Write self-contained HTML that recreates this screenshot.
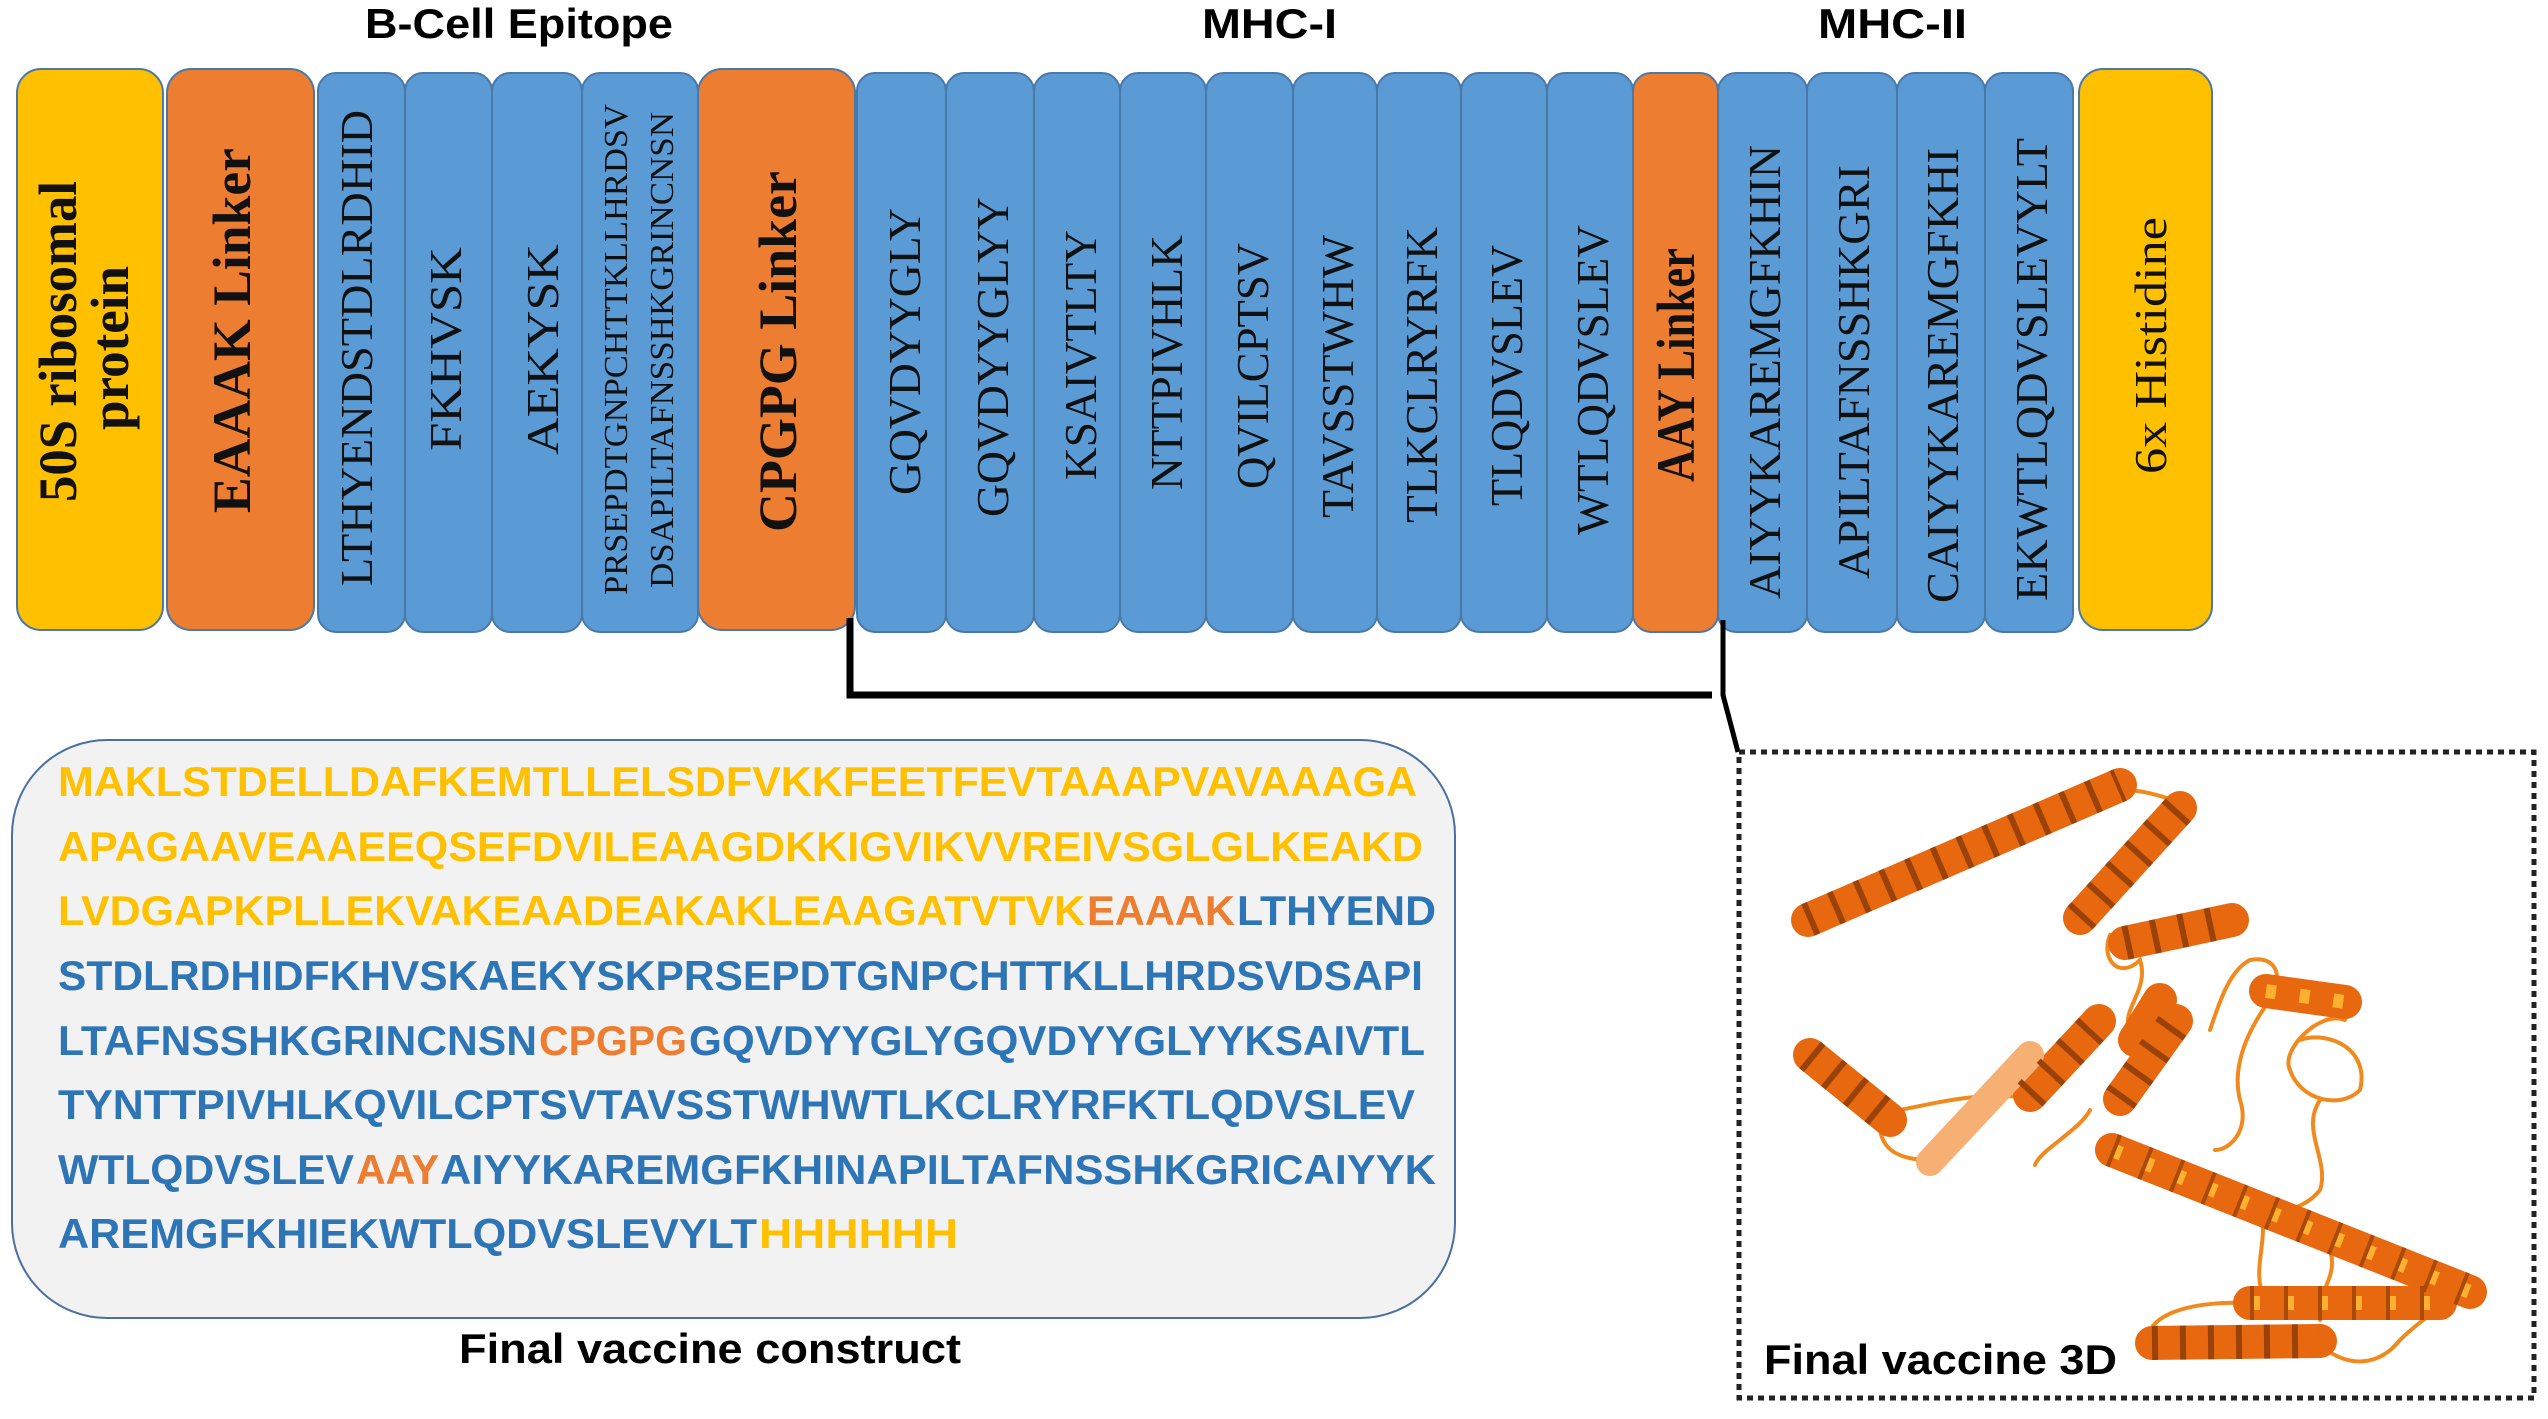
<!DOCTYPE html>
<html><head><meta charset="utf-8"><style>
html,body{margin:0;padding:0;background:#fff;}
svg{display:block;}
</style></head><body>
<svg width="2548" height="1419" viewBox="0 0 2548 1419" xmlns="http://www.w3.org/2000/svg">
<rect width="2548" height="1419" fill="#fff"/>
<g font-family="'Liberation Sans', sans-serif" font-weight="bold" font-size="42" fill="#000">
<text x="365" y="38" textLength="308" lengthAdjust="spacingAndGlyphs">B-Cell Epitope</text>
<text x="1202" y="38" textLength="135" lengthAdjust="spacingAndGlyphs">MHC-I</text>
<text x="1818" y="38" textLength="149" lengthAdjust="spacingAndGlyphs">MHC-II</text>
</g>
<g stroke="#4a78a8" stroke-width="2">
<rect x="17" y="69" width="146" height="561" rx="24" fill="#FFC000"/>
<rect x="167" y="69" width="147" height="561" rx="24" fill="#ED7D31"/>
<rect x="318" y="73" width="87" height="559" rx="18" fill="#5B9BD5"/>
<rect x="405" y="73" width="87" height="559" rx="18" fill="#5B9BD5"/>
<rect x="492" y="73" width="90" height="559" rx="18" fill="#5B9BD5"/>
<rect x="582" y="73" width="116" height="559" rx="18" fill="#5B9BD5"/>
<rect x="698" y="69" width="157" height="561" rx="24" fill="#ED7D31"/>
<rect x="857" y="73" width="89" height="559" rx="18" fill="#5B9BD5"/>
<rect x="946" y="73" width="88" height="559" rx="18" fill="#5B9BD5"/>
<rect x="1034" y="73" width="86" height="559" rx="18" fill="#5B9BD5"/>
<rect x="1120" y="73" width="86" height="559" rx="18" fill="#5B9BD5"/>
<rect x="1206" y="73" width="87" height="559" rx="18" fill="#5B9BD5"/>
<rect x="1293" y="73" width="84" height="559" rx="18" fill="#5B9BD5"/>
<rect x="1377" y="73" width="84" height="559" rx="18" fill="#5B9BD5"/>
<rect x="1461" y="73" width="86" height="559" rx="18" fill="#5B9BD5"/>
<rect x="1547" y="73" width="86" height="559" rx="18" fill="#5B9BD5"/>
<rect x="1633" y="73" width="85" height="559" rx="18" fill="#ED7D31"/>
<rect x="1718" y="73" width="89" height="559" rx="18" fill="#5B9BD5"/>
<rect x="1807" y="73" width="90" height="559" rx="18" fill="#5B9BD5"/>
<rect x="1897" y="73" width="88" height="559" rx="18" fill="#5B9BD5"/>
<rect x="1985" y="73" width="88" height="559" rx="18" fill="#5B9BD5"/>
<rect x="2079" y="69" width="133" height="561" rx="24" fill="#FFC000"/>
</g>
<g font-family="'Liberation Serif', serif" fill="#111">
<g font-weight="bold" font-size="54">
<text transform="translate(76,342) rotate(-90)" x="-160" textLength="321" lengthAdjust="spacingAndGlyphs">50S ribosomal</text>
<text transform="translate(128,348) rotate(-90)" x="-82" textLength="164" lengthAdjust="spacingAndGlyphs">protein</text>
<text transform="translate(250,331) rotate(-90)" x="-182" textLength="365" lengthAdjust="spacingAndGlyphs">EAAAK Linker</text>
<text transform="translate(796,352) rotate(-90)" x="-180" textLength="361" lengthAdjust="spacingAndGlyphs">CPGPG Linker</text>
<text transform="translate(1694,365) rotate(-90)" x="-117" textLength="234" lengthAdjust="spacingAndGlyphs">AAY Linker</text>
</g>
<g font-size="46">
<text transform="translate(372,348) rotate(-90)" x="-238" textLength="476" lengthAdjust="spacingAndGlyphs">LTHYENDSTDLRDHID</text>
<text transform="translate(461,349) rotate(-90)" x="-102" textLength="204" lengthAdjust="spacingAndGlyphs">FKHVSK</text>
<text transform="translate(558,350) rotate(-90)" x="-105" textLength="211" lengthAdjust="spacingAndGlyphs">AEKYSK</text>
<text transform="translate(920,352) rotate(-90)" x="-143" textLength="287" lengthAdjust="spacingAndGlyphs">GQVDYYGLY</text>
<text transform="translate(1008,357) rotate(-90)" x="-160" textLength="320" lengthAdjust="spacingAndGlyphs">GQVDYYGLYY</text>
<text transform="translate(1096,355) rotate(-90)" x="-125" textLength="250" lengthAdjust="spacingAndGlyphs">KSAIVTLTY</text>
<text transform="translate(1182,363) rotate(-90)" x="-127" textLength="255" lengthAdjust="spacingAndGlyphs">NTTPIVHLK</text>
<text transform="translate(1268,366) rotate(-90)" x="-123" textLength="246" lengthAdjust="spacingAndGlyphs">QVILCPTSV</text>
<text transform="translate(1353,377) rotate(-90)" x="-141" textLength="283" lengthAdjust="spacingAndGlyphs">TAVSSTWHW</text>
<text transform="translate(1437,375) rotate(-90)" x="-148" textLength="296" lengthAdjust="spacingAndGlyphs">TLKCLRYRFK</text>
<text transform="translate(1522,376) rotate(-90)" x="-130" textLength="261" lengthAdjust="spacingAndGlyphs">TLQDVSLEV</text>
<text transform="translate(1608,380) rotate(-90)" x="-155" textLength="310" lengthAdjust="spacingAndGlyphs">WTLQDVSLEV</text>
<text transform="translate(1780,372) rotate(-90)" x="-227" textLength="454" lengthAdjust="spacingAndGlyphs">AIYYKAREMGFKHIN</text>
<text transform="translate(1869,372) rotate(-90)" x="-207" textLength="414" lengthAdjust="spacingAndGlyphs">APILTAFNSSHKGRI</text>
<text transform="translate(1958,376) rotate(-90)" x="-227" textLength="455" lengthAdjust="spacingAndGlyphs">CAIYYKAREMGFKHI</text>
<text transform="translate(2047,370) rotate(-90)" x="-231" textLength="463" lengthAdjust="spacingAndGlyphs">EKWTLQDVSLEVYLT</text>
<text transform="translate(2166,346) rotate(-90)" x="-128" textLength="257" lengthAdjust="spacingAndGlyphs">6x Histidine</text>
</g>
<g font-size="34">
<text transform="translate(627,350) rotate(-90)" x="-245" textLength="491" lengthAdjust="spacingAndGlyphs">PRSEPDTGNPCHTTKLLHRDSV</text>
<text transform="translate(673,350) rotate(-90)" x="-238" textLength="476" lengthAdjust="spacingAndGlyphs">DSAPILTAFNSSHKGRINCNSN</text>
</g>
</g>
<path d="M850,618 V695 H1712" fill="none" stroke="#000" stroke-width="7"/>
<path d="M1723,620 V695 L1738,752" fill="none" stroke="#000" stroke-width="5"/>
<rect x="12" y="740" width="1443" height="578" rx="95" fill="#F2F2F2" stroke="#4a6fa0" stroke-width="2"/>
<g font-family="'Liberation Sans', sans-serif" font-weight="bold" font-size="42">
<text y="796"><tspan x="58" fill="#FFC000" textLength="1359" lengthAdjust="spacingAndGlyphs">MAKLSTDELLDAFKEMTLLELSDFVKKFEETFEVTAAAPVAVAAAGA</tspan></text>
<text y="861"><tspan x="58" fill="#FFC000" textLength="1365" lengthAdjust="spacingAndGlyphs">APAGAAVEAAEEQSEFDVILEAAGDKKIGVIKVVREIVSGLGLKEAKD</tspan></text>
<text y="925"><tspan x="58" fill="#FFC000" textLength="1027" lengthAdjust="spacingAndGlyphs">LVDGAPKPLLEKVAKEAADEAKAKLEAAGATVTVK</tspan><tspan x="1087" fill="#ED7D31" textLength="148" lengthAdjust="spacingAndGlyphs">EAAAK</tspan><tspan x="1237" fill="#2E75B6" textLength="199" lengthAdjust="spacingAndGlyphs">LTHYEND</tspan></text>
<text y="990"><tspan x="58" fill="#2E75B6" textLength="1365" lengthAdjust="spacingAndGlyphs">STDLRDHIDFKHVSKAEKYSKPRSEPDTGNPCHTTKLLHRDSVDSAPI</tspan></text>
<text y="1055"><tspan x="58" fill="#2E75B6" textLength="479" lengthAdjust="spacingAndGlyphs">LTAFNSSHKGRINCNSN</tspan><tspan x="539" fill="#ED7D31" textLength="148" lengthAdjust="spacingAndGlyphs">CPGPG</tspan><tspan x="689" fill="#2E75B6" textLength="736" lengthAdjust="spacingAndGlyphs">GQVDYYGLYGQVDYYGLYYKSAIVTL</tspan></text>
<text y="1119"><tspan x="58" fill="#2E75B6" textLength="1357" lengthAdjust="spacingAndGlyphs">TYNTTPIVHLKQVILCPTSVTAVSSTWHWTLKCLRYRFKTLQDVSLEV</tspan></text>
<text y="1184"><tspan x="58" fill="#2E75B6" textLength="296" lengthAdjust="spacingAndGlyphs">WTLQDVSLEV</tspan><tspan x="356" fill="#ED7D31" textLength="83" lengthAdjust="spacingAndGlyphs">AAY</tspan><tspan x="440" fill="#2E75B6" textLength="996" lengthAdjust="spacingAndGlyphs">AIYYKAREMGFKHINAPILTAFNSSHKGRICAIYYK</tspan></text>
<text y="1248"><tspan x="58" fill="#2E75B6" textLength="699" lengthAdjust="spacingAndGlyphs">AREMGFKHIEKWTLQDVSLEVYLT</tspan><tspan x="759" fill="#FFC000" textLength="199" lengthAdjust="spacingAndGlyphs">HHHHHH</tspan></text>
<text y="1363" x="459" fill="#000" textLength="502" lengthAdjust="spacingAndGlyphs">Final vaccine construct</text>
</g>
<rect x="1739" y="752" width="795" height="646" fill="none" stroke="#222" stroke-width="5" stroke-dasharray="6,5"/>
<g fill="none" stroke-linecap="round">
<g stroke="#F08A1E" stroke-width="4">
<path d="M2122,790 C2150,790 2170,800 2190,805"/>
<path d="M2110,935 C2100,960 2120,980 2140,960 C2150,990 2120,1010 2130,1030"/>
<path d="M1900,1110 C1950,1100 1990,1090 2040,1100"/>
<path d="M2090,1110 C2080,1130 2040,1150 2035,1165"/>
<path d="M2210,1030 C2220,1000 2230,970 2250,960 C2275,955 2285,975 2270,1000 C2255,1020 2230,1060 2240,1100 C2250,1130 2230,1150 2215,1150"/>
<path d="M2300,1040 C2330,1030 2370,1050 2360,1090 C2340,1110 2300,1100 2290,1070 C2280,1050 2320,1010 2345,1020"/>
<path d="M2320,1100 C2300,1130 2330,1160 2320,1190 C2300,1215 2280,1200 2300,1230"/>
<path d="M2260,1210 C2270,1240 2250,1270 2265,1300"/>
<path d="M2330,1250 C2340,1280 2310,1300 2320,1320"/>
<path d="M2150,1346 C2140,1320 2180,1300 2250,1303"/>
<path d="M2320,1345 C2350,1370 2380,1365 2400,1340 C2420,1320 2440,1310 2441,1303"/>
<path d="M1880,1125 C1880,1150 1900,1160 1930,1160"/>
</g>
<g stroke="#E8680F" stroke-width="34">
<path d="M1808,920 L2120,785"/>
<path d="M2080,918 L2180,808"/>
<path d="M2125,943 L2232,920"/>
<path d="M2030,1095 L2099,1021"/>
<path d="M2120,1099 L2176,1021"/>
<path d="M2135,1040 L2160,1000"/>
<path d="M1810,1055 L1890,1120"/>
<path d="M2112,1150 L2470,1292"/>
<path d="M2152,1343 L2320,1341"/>
<path d="M2250,1303 L2440,1303"/>
<path d="M2266,991 L2345,1002"/>
</g>
<path d="M1930,1162 L2030,1055" stroke="#F7B074" stroke-width="28"/>
</g>
<g fill="none" stroke-linecap="butt">
<g stroke="#9A420A" stroke-width="34" stroke-dasharray="6,22">
<path d="M1808,920 L2120,785"/>
<path d="M2080,918 L2180,808"/>
<path d="M2125,943 L2232,920"/>
<path d="M2030,1095 L2099,1021"/>
<path d="M2120,1099 L2176,1021"/>
<path d="M1810,1055 L1890,1120"/>
<path d="M2152,1343 L2320,1341"/>
</g>
<g stroke="#FFB030" stroke-width="14" stroke-dasharray="10,24">
<path d="M2112,1150 L2470,1292"/>
<path d="M2250,1303 L2440,1303"/>
<path d="M2266,991 L2345,1002"/>
</g>
<g stroke="#A84A0A" stroke-width="34" stroke-dasharray="4,30">
<path d="M2112,1150 L2470,1292"/>
<path d="M2250,1303 L2440,1303"/>
</g>
</g>
<text x="1764" y="1374" font-family="'Liberation Sans', sans-serif" font-weight="bold" font-size="42" fill="#000" textLength="353" lengthAdjust="spacingAndGlyphs">Final vaccine 3D</text>
</svg>
</body></html>
